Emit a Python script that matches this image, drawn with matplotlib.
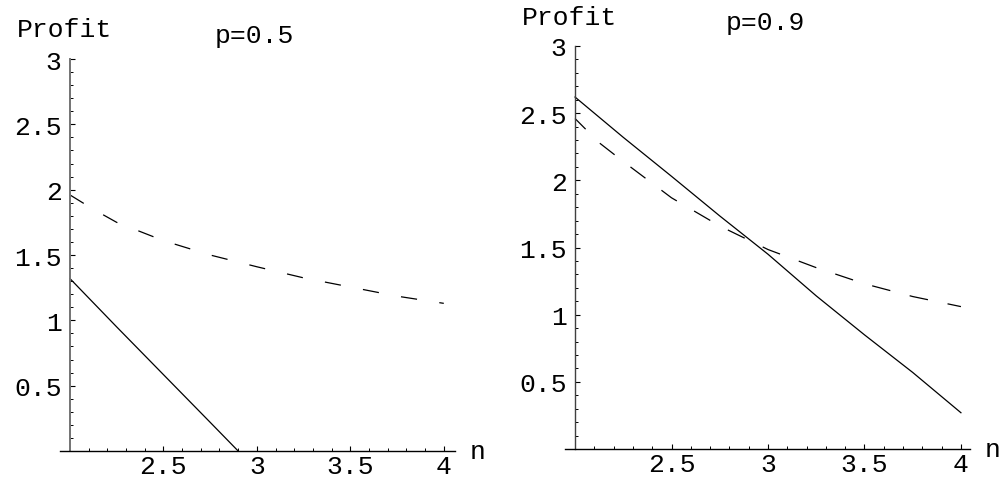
import numpy as np
import matplotlib
matplotlib.use("Agg")
import matplotlib.pyplot as plt
from matplotlib.ticker import FixedLocator


# Valeurs

# Panneau gauche : p = 0.5
n_g_plein = [2.0, 2.25, 2.5, 2.75, 2.9]
profit_g_plein = [1.32, 0.95, 0.585, 0.22, 0.0]

n_g_tirets = [2.0, 2.125, 2.25, 2.5, 2.75, 3.0, 3.25, 3.5, 3.75, 4.0]
profit_g_tirets = [1.96, 1.85, 1.75, 1.61, 1.50, 1.41, 1.325, 1.255, 1.185, 1.13]

# Panneau droit : p = 0.9
n_d_plein = [2.0, 2.25, 2.5, 2.75, 3.0, 3.25, 3.5, 3.75, 4.0]
profit_d_plein = [2.62, 2.32, 2.03, 1.735, 1.45, 1.14, 0.85, 0.57, 0.27]

n_d_tirets = [2.0, 2.125, 2.25, 2.5, 2.75, 3.0, 3.25, 3.5, 3.75, 4.0]
profit_d_tirets = [2.46, 2.28, 2.14, 1.87, 1.66, 1.485, 1.35, 1.23, 1.135, 1.06]

titres = ["p=0.5", "p=0.9"]
x_ticks = [2.5, 3, 3.5, 4]
x_labels = ["2.5", "3", "3.5", "4"]
y_ticks = [0.5, 1, 1.5, 2, 2.5, 3]
y_labels = ["0.5", "1", "1.5", "2", "2.5", "3"]

police = "Liberation Mono"
taille = 19

W, H = 1000, 489
fig = plt.figure(figsize=(W / 100, H / 100), dpi=100)

# Cadrage des deux panneaux en pixels : (gauche, droite, haut, bas)
cadres = [(60, 455, 60, 452), (565, 970, 47, 450)]
limites_x = [(1.947, 4.06), (1.948, 4.047)]
courbes = [
    (n_g_plein, profit_g_plein, n_g_tirets, profit_g_tirets),
    (n_d_plein, profit_d_plein, n_d_tirets, profit_d_tirets),
]
tirets = [(0, (13, 18)), (3, (15, 16))]
pos_profit = [(17, 30), (522, 18)]
pos_titre = [(254, 36), (765, 23)]
pos_n = [(470, 452), (985, 450)]

for i in range(2):
    g, d, h, b = cadres[i]
    ax = fig.add_axes([g / W, (H - b) / H, (d - g) / W, (b - h) / H])
    np_, yp, nt, yt = courbes[i]

    ax.plot(np_, yp, color="black", lw=0.9)
    ax.plot(nt, yt, color="black", lw=0.9, ls=tirets[i])

    ax.set_xlim(*limites_x[i])
    ax.set_ylim(0, 3)

    # Axes à la Mathematica : croisement en (2, 0)
    for s in ["top", "right"]:
        ax.spines[s].set_visible(False)
    ax.spines["left"].set_position(("data", 2))
    ax.spines["bottom"].set_position(("data", 0))
    ax.spines["left"].set_color("0.45" if i == 0 else "0.25")
    ax.spines["left"].set_linewidth(1.4 if i == 0 else 1.0)
    ax.spines["bottom"].set_linewidth(1.0)

    ax.xaxis.set_major_locator(FixedLocator(x_ticks))
    ax.set_xticklabels(x_labels)
    ax.xaxis.set_minor_locator(FixedLocator(np.round(np.arange(2.1, 4.05, 0.1), 2)))
    ax.yaxis.set_major_locator(FixedLocator(y_ticks))
    ax.set_yticklabels(y_labels)
    ax.yaxis.set_minor_locator(FixedLocator(np.round(np.arange(0.1, 3.0, 0.1), 2)))

    ax.tick_params(which="major", direction="in", length=3.5, width=0.8, labelsize=taille)
    ax.tick_params(which="minor", direction="in", length=2, width=0.7)
    ax.tick_params(axis="x", pad=2)
    ax.tick_params(axis="y", pad=6)
    for lab in ax.get_xticklabels() + ax.get_yticklabels():
        lab.set_family(police)

    fig.text(pos_profit[i][0] / W, 1 - pos_profit[i][1] / H, "Profit",
             family=police, fontsize=taille, ha="left", va="center")
    fig.text(pos_titre[i][0] / W, 1 - pos_titre[i][1] / H, titres[i],
             family=police, fontsize=taille, ha="center", va="center")
    fig.text(pos_n[i][0] / W, 1 - pos_n[i][1] / H, "n",
             family=police, fontsize=taille, ha="left", va="center")

fig.savefig("out.png", dpi=100)
